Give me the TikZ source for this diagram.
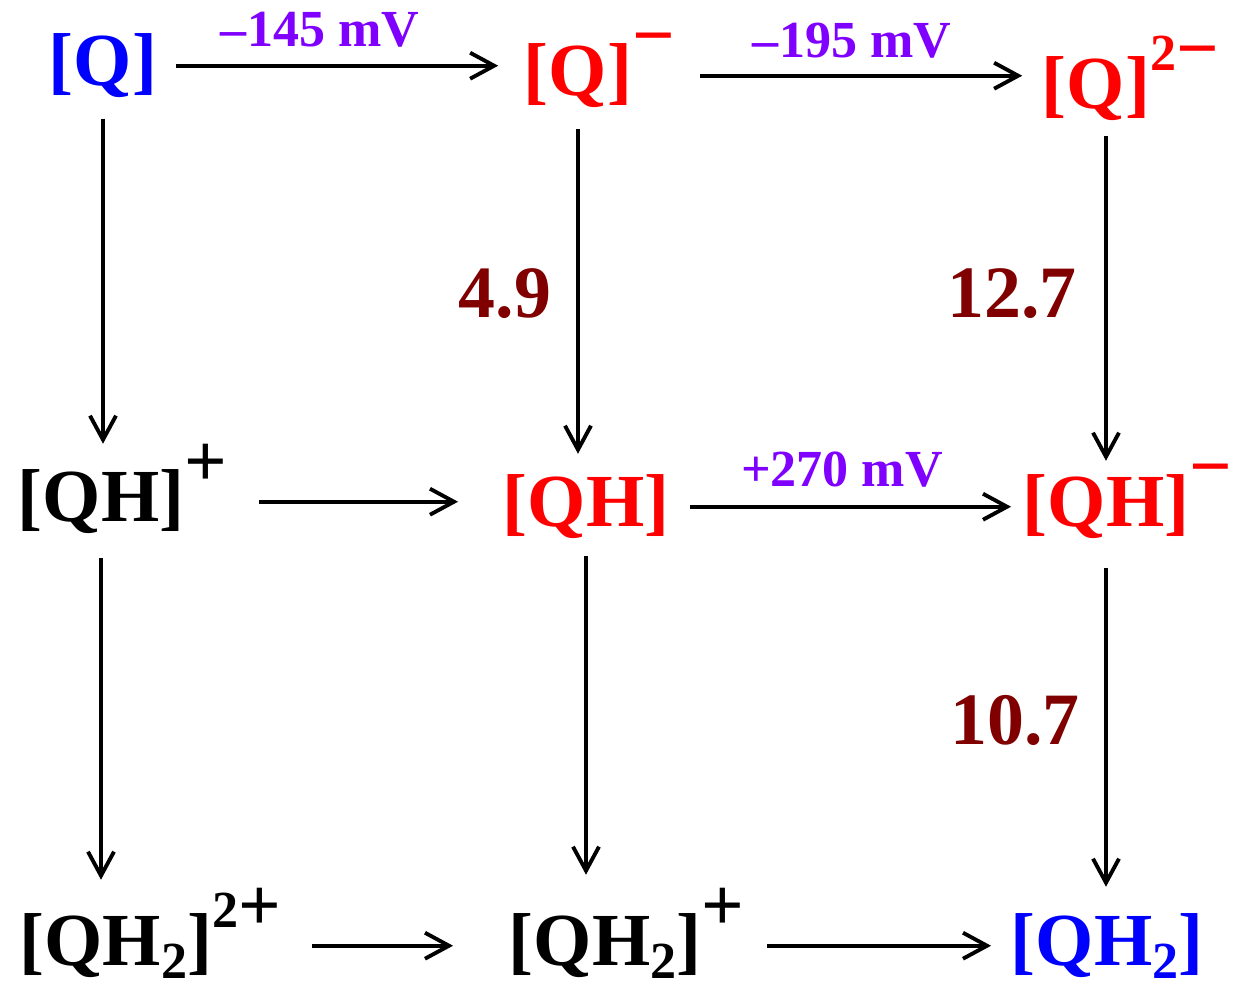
\documentclass[tikz,border=0pt]{standalone}
\usepackage{fontspec}
\setmainfont{Liberation Serif}
\usetikzlibrary{arrows.meta}
\definecolor{qblue}{HTML}{0000FF}
\definecolor{qred}{HTML}{FF0000}
\definecolor{mvpurple}{HTML}{8000FF}
\definecolor{pkared}{HTML}{800000}
\newcommand{\sgn}[1]{\raisebox{.47em}{#1}}
\newcommand{\uptwo}{\raisebox{.52em}{\fontsize{14.8}{16}\selectfont 2}}
\newcommand{\lowtwo}{\raisebox{-.17em}{\fontsize{14.8}{16}\selectfont 2}}
\begin{document}
\begin{tikzpicture}[x=.01cm,y=-.01cm,
 sp/.style={inner sep=0,anchor=base,font=\fontsize{21.3}{24}\selectfont\bfseries,text height=.525cm,text depth=.12cm},
 arr/.style={-{Straight Barb[length=2.4mm,width=2.6mm,line width=1.1pt]},line width=1.1pt},
 mv/.style={inner sep=0,anchor=base,text=mvpurple,font=\fontsize{14.8}{16}\selectfont\bfseries},
 pk/.style={inner sep=0,anchor=base,text=pkared,font=\fontsize{21}{24}\selectfont\bfseries}]
\useasboundingbox (0,0) rectangle (1238,988);
% species
\node[sp,text=qblue] (q) at (103,86) {[Q]};
\node[sp,text=qred] (qm) at (578,96) {[Q]\rlap{\sgn{−}}};
\node[sp,text=qred] (qmm) at (1096,109) {[Q]\rlap{\uptwo\sgn{−}}};
\node[sp] (qhp) at (101,522) {[QH]\rlap{\sgn{+}}};
\node[sp,text=qred] (qh) at (586,527) {[QH]};
\node[sp,text=qred] (qhm) at (1106,527) {[QH]\rlap{\sgn{−}}};
\node[sp] (qhhpp) at (116,966) {[QH\lowtwo]\rlap{\uptwo\sgn{+}}};
\node[sp] (qhhp) at (605,966) {[QH\lowtwo]\rlap{\sgn{+}}};
\node[sp,text=qblue] (qhh) at (1107,966) {[QH\lowtwo]};
% electron transfers
\draw[arr,shorten <=1.8mm,shorten >=2.5mm] (q.east) -- (q.east -| qm.west);
\draw[arr,shorten <=6.7mm,shorten >=1.9mm] (qm.east) -- (qm.east -| qmm.west);
\draw[arr,shorten <=7.4mm,shorten >=4.4mm] (qhp.east) -- (qhp.east -| qh.west);
\draw[arr,shorten <=2mm,shorten >=1.1mm] (qh.east) -- (qh.east -| qhm.west);
\draw[arr,shorten <=9.9mm,shorten >=5.5mm] (qhhpp.east) -- (qhhpp.east -| qhhp.west);
\draw[arr,shorten <=6.5mm,shorten >=1.9mm] (qhhp.east) -- (qhhp.east -| qhh.west);
% proton transfers
\draw[arr,shorten <=2mm,shorten >=2.5mm] (q.south) -- (q.south |- qhp.north);
\draw[arr,shorten <=2mm,shorten >=2mm] (qm.south) -- (qm.south |- qh.north);
\draw[arr,shorten <=1.4mm,shorten >=1.3mm] (qhm.north |- qmm.south) -- (qhm.north);
\draw[arr,shorten <=2.3mm,shorten >=3.3mm] (qhp.south) -- (qhp.south |- qhhpp.north);
\draw[arr,shorten <=1.6mm,shorten >=3.8mm] (qh.south) -- (qh.south |- qhhp.north);
\draw[arr,shorten <=2.8mm,shorten >=2.6mm] (qhm.south) -- (qhm.south |- qhh.north);
% labels
\node[mv] (e1) at (320,47) {–145 mV};
\node[mv] (e2) at (852,58) {–195 mV};
\node[mv] (e3) at (842,487) {+270 mV};
\node[pk] (k1) at (505,318) {4.9};
\node[pk] (k2) at (1012,318) {12.7};
\node[pk] (k3) at (1015,745) {10.7};
\end{tikzpicture}
\end{document}
